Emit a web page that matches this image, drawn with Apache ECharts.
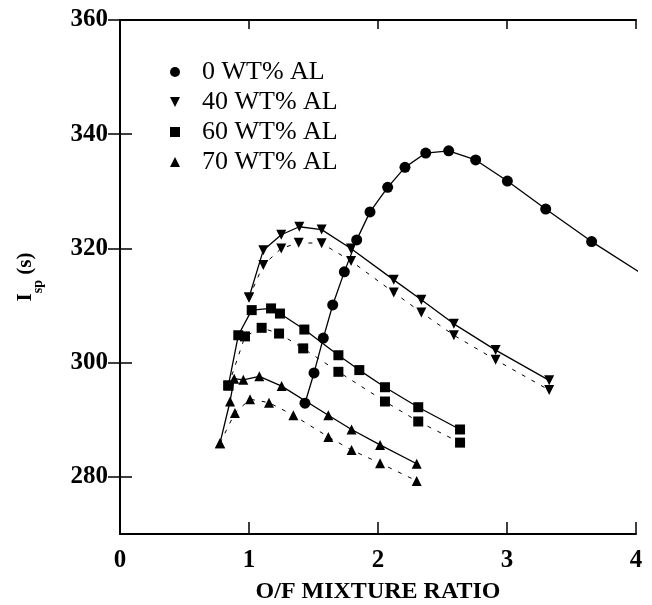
<!DOCTYPE html>
<html>
<head>
<meta charset="utf-8">
<script src="https://cdn.jsdelivr.net/npm/echarts@6/dist/echarts.min.js"></script>
<style>
  html, body { margin: 0; padding: 0; background: #fff; }
  #main { width: 652px; height: 605px; }
</style>
</head>
<body>
<div id="main"></div>
<script>
// O/F ratio (x) and Isp (y)
const al0X = [1.434, 1.504, 1.576, 1.649, 1.739, 1.835, 1.938, 2.075, 2.209, 2.37, 2.548, 2.757, 3.003, 3.30, 3.656, 4.1];
const al0Y = [292.9, 298.2, 304.3, 310.1, 315.9, 321.5, 326.4, 330.7, 334.2, 336.7, 337.1, 335.5, 331.8, 326.9, 321.2, 314.8];

const al40X = [1.0, 1.111, 1.25, 1.39, 1.563, 1.79, 2.122, 2.336, 2.588, 2.912, 3.327];
const al40Y = [311.4, 319.7, 322.4, 323.8, 323.3, 320.0, 314.5, 311.0, 306.8, 302.2, 296.9];
const al40dX = [1.0, 1.111, 1.25, 1.385, 1.563, 1.791, 2.122, 2.336, 2.588, 2.912, 3.327];
const al40dY = [311.4, 317.1, 320.0, 321.0, 320.9, 317.8, 312.3, 308.8, 304.8, 300.5, 295.2];

const al60X = [0.84, 0.917, 1.021, 1.171, 1.24, 1.429, 1.693, 1.855, 2.054, 2.312, 2.636];
const al60Y = [296.0, 304.8, 309.2, 309.5, 308.6, 305.8, 301.3, 298.7, 295.7, 292.2, 288.3];
const al60dX = [0.84, 0.969, 1.098, 1.233, 1.42, 1.693, 2.054, 2.312, 2.636];
const al60dY = [296.0, 304.6, 306.1, 305.1, 302.5, 298.4, 293.2, 289.7, 286.0];

const al70X = [0.775, 0.853, 0.885, 0.956, 1.08, 1.253, 1.615, 1.795, 2.016, 2.30];
const al70Y = [285.9, 293.2, 297.2, 297.0, 297.6, 295.9, 290.8, 288.3, 285.6, 282.3];
const al70dX = [0.775, 0.891, 1.008, 1.155, 1.344, 1.615, 1.795, 2.016, 2.30];
const al70dY = [285.9, 291.2, 293.6, 293.0, 290.8, 287.0, 284.7, 282.4, 279.3];

const names = ['0 WT% AL', '40 WT% AL', '60 WT% AL', '70 WT% AL'];
const xTicks = [0, 1, 2, 3, 4];
const yTicks = [280, 300, 320, 340, 360];

const downTri = 'path://M0,0 L10,0 L5,10 Z';
const font = 'Liberation Serif';

const zip = (xs, ys) => xs.map((x, i) => [x, ys[i]]);

function mkSeries(name, xs, ys, symbol, size, dashed) {
  return {
    name: name,
    type: 'line',
    data: zip(xs, ys),
    symbol: symbol,
    symbolSize: size,
    clip: true,
    itemStyle: { color: '#000' },
    lineStyle: dashed
      ? { color: '#000', width: 1, type: [4, 7] }
      : { color: '#000', width: 1.3 },
    animation: false
  };
}

const chart = echarts.init(document.getElementById('main'));

const tickStyle = { show: true, inside: true, length: 12, lineStyle: { color: '#000', width: 1.5 } };
const lineStyle = { show: true, lineStyle: { color: '#000', width: 2 } };

chart.setOption({
  backgroundColor: '#fff',
  grid: { left: 120, right: 16, top: 20, bottom: 71, outerBoundsMode: 'none' },
  legend: {
    orient: 'vertical',
    left: 165,
    top: 54,
    itemWidth: 10,
    itemHeight: 10,
    itemGap: 4,
    data: [
      { name: names[0], icon: 'circle' },
      { name: names[1], icon: downTri },
      { name: names[2], icon: 'rect' },
      { name: names[3], icon: 'triangle' }
    ],
    textStyle: { fontFamily: font, fontSize: 26, color: '#000', lineHeight: 26, padding: [0, 0, 0, 17] },
    selectedMode: false
  },
  xAxis: [
    {
      type: 'value',
      min: 0, max: 4, interval: 1,
      name: 'O/F MIXTURE RATIO',
      nameLocation: 'middle',
      nameGap: 46,
      nameTextStyle: { fontFamily: font, fontSize: 24, fontWeight: 'bold', color: '#000' },
      axisLine: lineStyle,
      axisTick: tickStyle,
      splitLine: { show: false },
      axisLabel: {
        fontFamily: font, fontSize: 25, fontWeight: 'bold', color: '#000', margin: 14,
        customValues: xTicks
      }
    },
    {
      type: 'value', position: 'top',
      min: 0, max: 4, interval: 1,
      axisLine: lineStyle,
      axisTick: Object.assign({}, tickStyle, { length: 9 }),
      axisLabel: { show: false },
      splitLine: { show: false }
    }
  ],
  yAxis: [
    {
      type: 'value',
      min: 270, max: 360,
      name: '{a|I}{b|sp}{a| (s)}',
      nameLocation: 'middle',
      nameGap: 75,
      nameRotate: 90,
      nameTextStyle: {
        rich: {
          a: { fontFamily: font, fontSize: 21, fontWeight: 'bold', color: '#000', lineHeight: 30, verticalAlign: 'top' },
          b: { fontFamily: font, fontSize: 14, fontWeight: 'bold', color: '#000', lineHeight: 30, verticalAlign: 'bottom' }
        }
      },
      axisLine: lineStyle,
      axisTick: Object.assign({}, tickStyle, { customValues: yTicks }),
      splitLine: { show: false },
      axisLabel: {
        fontFamily: font, fontSize: 25, fontWeight: 'bold', color: '#000', margin: 12,
        customValues: yTicks
      }
    },
    {
      type: 'value', position: 'right',
      min: 270, max: 360,
      axisLine: lineStyle,
      axisTick: Object.assign({}, tickStyle, { customValues: yTicks }),
      axisLabel: { show: false },
      splitLine: { show: false }
    }
  ],
  series: [
    mkSeries(names[0], al0X, al0Y, 'circle', 11, false),
    mkSeries(names[1], al40X, al40Y, downTri, 10, false),
    mkSeries(names[1], al40dX, al40dY, downTri, 10, true),
    mkSeries(names[2], al60X, al60Y, 'rect', 10, false),
    mkSeries(names[2], al60dX, al60dY, 'rect', 10, true),
    mkSeries(names[3], al70X, al70Y, 'triangle', 10, false),
    mkSeries(names[3], al70dX, al70dY, 'triangle', 10, true)
  ]
});
</script>
</body>
</html>
